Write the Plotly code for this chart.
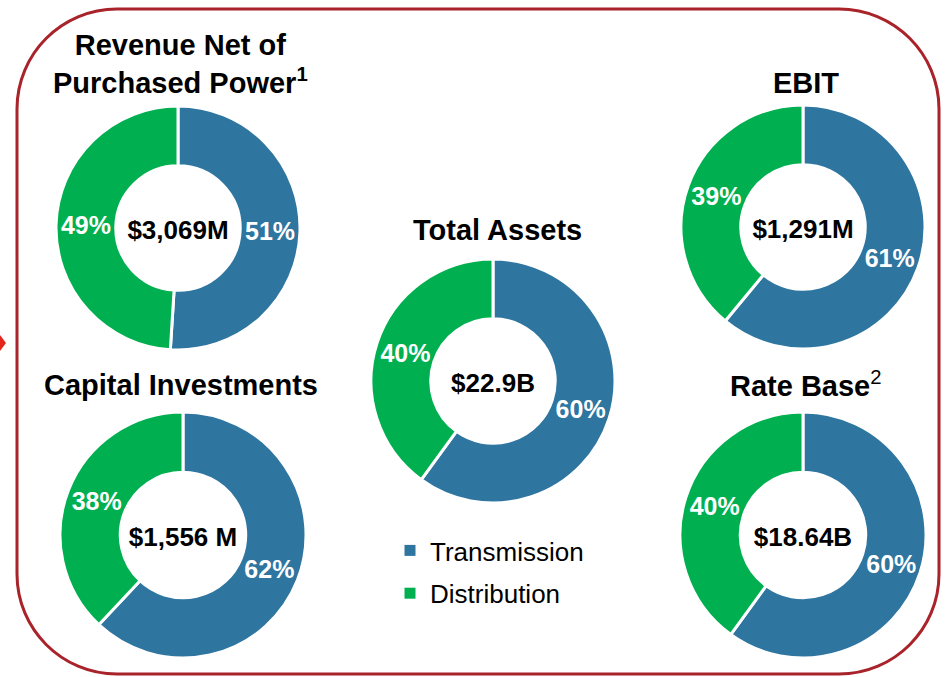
import plotly.graph_objects as go

W, H = 949, 677

# ---- data ----
segments = ["Transmission", "Distribution"]
chart_titles = ["<b>Revenue Net of<br>Purchased Power<sup>1</sup></b>", "<b>Capital Investments</b>",
                "<b>Total Assets</b>", "<b>EBIT</b>", "<b>Rate Base</b><sup>2</sup>"]
center_labels = ["$3,069M", "$1,556 M", "$22.9B", "$1,291M", "$18.64B"]
transmission_pct = [51, 62, 60, 61, 60]
distribution_pct = [49, 38, 40, 39, 40]

# ---- layout (pixels) ----
centers = [(178, 228), (183, 535), (493, 381), (803, 227), (803, 535)]
radius = [122, 123, 122, 122, 123]
title_pos = [(180, 64), (181, 385), (497, 230), (806, 83), (806, 384)]
BLUE = "#2E75A0"
GREEN = "#00B050"
FONT = "Liberation Sans, Arial, sans-serif"

fig = go.Figure()

for i in range(5):
    cx, cy = centers[i]
    r = radius[i]
    fig.add_trace(go.Pie(
        labels=segments,
        values=[transmission_pct[i], distribution_pct[i]],
        sort=False, direction="clockwise", rotation=0,
        hole=0.51,
        marker=dict(colors=[BLUE, GREEN], line=dict(color="white", width=3)),
        texttemplate="<b>%{value}%</b>",
        textposition="inside",
        insidetextorientation="horizontal",
        textfont=dict(family=FONT, size=25, color="white"),
        title=dict(text="<b>" + center_labels[i] + "</b>", position="middle center",
                   font=dict(family=FONT, size=26, color="black")),
        domain=dict(x=[(cx - r) / W, (cx + r) / W], y=[1 - (cy + r) / H, 1 - (cy - r) / H]),
        showlegend=False,
        hoverinfo="label+value",
    ))

# legend entries
for name, col, grp in [(segments[0], BLUE, "t"), (segments[1], GREEN, "d")]:
    fig.add_trace(go.Scatter(x=[None], y=[None], mode="markers", name=name,
                             legendgroup=grp,
                             marker=dict(symbol="square", size=11, color=col)))

for i, t in enumerate(chart_titles):
    tx, ty = title_pos[i]
    fig.add_annotation(x=tx, y=ty, xref="x", yref="y", text=t,
                       showarrow=False, xanchor="center", yanchor="middle",
                       font=dict(family=FONT, size=29, color="black"))

# rounded border
L, R_, T, B, rr = 17, 939, 9, 674, 100
k = 0.5523 * rr
path = (f"M {L+rr},{T} L {R_-rr},{T} C {R_-rr+k},{T} {R_},{T+rr-k} {R_},{T+rr} "
        f"L {R_},{B-rr} C {R_},{B-rr+k} {R_-rr+k},{B} {R_-rr},{B} "
        f"L {L+rr},{B} C {L+rr-k},{B} {L},{B-rr+k} {L},{B-rr} "
        f"L {L},{T+rr} C {L},{T+rr-k} {L+rr-k},{T} {L+rr},{T} Z")
fig.add_shape(type="path", path=path, xref="x", yref="y",
              line=dict(color="#A8232A", width=3), layer="below")
fig.add_shape(type="path", path="M 0,335 L 6,343 L 0,351 Z", xref="x", yref="y",
              fillcolor="#E3261C", line=dict(width=0))

fig.update_layout(
    width=W, height=H,
    margin=dict(l=0, r=0, t=0, b=0),
    paper_bgcolor="white", plot_bgcolor="rgba(0,0,0,0)",
    xaxis=dict(range=[0, W], visible=False, fixedrange=True),
    yaxis=dict(range=[H, 0], visible=False, fixedrange=True),
    showlegend=True,
    legend=dict(x=390 / W, y=1 - 527 / H, xanchor="left", yanchor="top",
                font=dict(family=FONT, size=26, color="black"),
                bgcolor="rgba(0,0,0,0)", tracegroupgap=6),
    font=dict(family=FONT),
)

fig.write_html("out.html", config={"displayModeBar": False},
               post_script="document.body.style.margin='0';")
